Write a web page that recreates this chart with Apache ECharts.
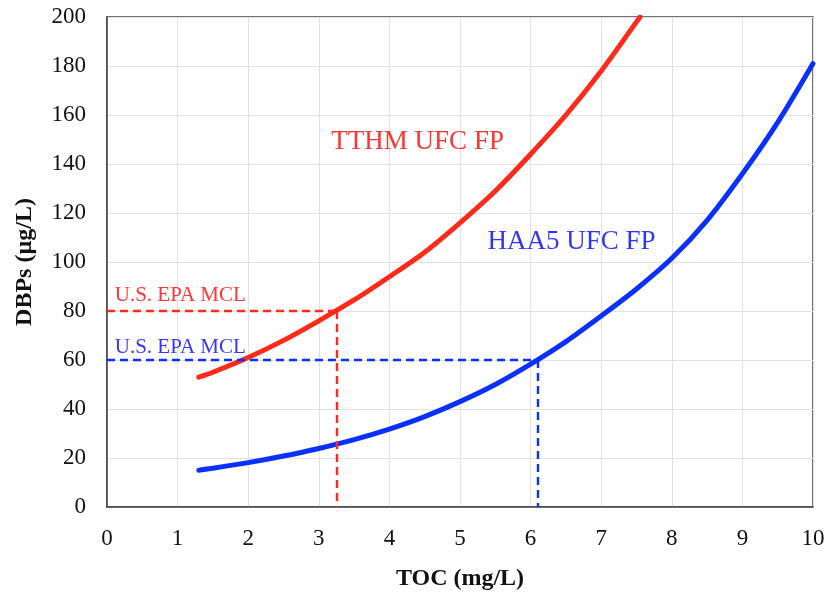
<!DOCTYPE html>
<html>
<head>
<meta charset="utf-8">
<script src="https://cdn.jsdelivr.net/npm/echarts@6/dist/echarts.min.js"></script>
<style>html,body{margin:0;padding:0;background:#fff}#c{width:827px;height:595px}</style>
</head>
<body>
<div id="c"></div>
<script>
// TOC (mg/L) vs DBPs (µg/L)
const tthmToc = [1.3, 1.5, 2.0, 2.5, 3.0, 3.5, 4.0, 4.5, 5.0, 5.5, 6.0, 6.5, 7.0, 7.5, 7.55];
const tthmVal = [53, 55, 61, 68, 76, 84.5, 94, 104, 116, 129, 144, 160, 178, 198, 200];
const haa5Toc = [1.3, 1.5, 2.0, 2.5, 3.0, 3.5, 4.0, 4.5, 5.0, 5.5, 6.0, 6.5, 7.0, 7.5, 8.0, 8.5, 9.0, 9.5, 10.0];
const haa5Val = [15, 15.8, 18.1, 20.8, 23.9, 27.5, 31.8, 36.9, 43, 50, 58.3, 67.5, 78, 89, 101.5, 117, 136, 157, 181];
const tthmMcl = 80, tthmMclToc = 3.25;
const haa5Mcl = 60, haa5MclToc = 6.1;
const xTicks = [0,1,2,3,4,5,6,7,8,9,10];
const yTicks = [0,20,40,60,80,100,120,140,160,180,200];

const RED = '#ff2a1a', BLUE = '#0a30ff';
const serif = '"Liberation Serif", "DejaVu Serif", serif';

const chart = echarts.init(document.getElementById('c'));
chart.setOption({
  animation: false,
  grid: {left: 107, right: 14, top: 17, bottom: 88, outerBoundsMode: 'none', containLabel: false,
         show: true, borderColor: '#444', borderWidth: 1.5},
  xAxis: {
    type: 'value', min: xTicks[0], max: xTicks[xTicks.length-1], interval: 1,
    name: 'TOC (mg/L)', nameLocation: 'middle', nameGap: 60,
    nameTextStyle: {fontFamily: serif, fontSize: 24, fontWeight: 'bold', color: '#111'},
    axisLine: {show: true, lineStyle: {color: '#444', width: 1.5}},
    axisTick: {show: false},
    axisLabel: {fontFamily: serif, fontSize: 23, color: '#111', margin: 20},
    splitLine: {show: true, lineStyle: {color: '#e2e2e2', width: 1}}
  },
  yAxis: {
    type: 'value', min: yTicks[0], max: yTicks[yTicks.length-1], interval: 20,
    name: 'DBPs (µg/L)', nameLocation: 'middle', nameGap: 70, nameRotate: 90,
    nameTextStyle: {fontFamily: serif, fontSize: 24, fontWeight: 'bold', color: '#111'},
    axisLine: {show: true, lineStyle: {color: '#444', width: 1.5}},
    axisTick: {show: false},
    axisLabel: {fontFamily: serif, fontSize: 23, color: '#111', margin: 21},
    splitLine: {show: true, lineStyle: {color: '#e2e2e2', width: 1}}
  },
  series: [
    {
      type: 'line', smooth: 0.3, showSymbol: false, clip: true,
      data: tthmToc.map((x, i) => [x, tthmVal[i]]),
      lineStyle: {color: RED, width: 5, cap: 'round'},
      markLine: {
        symbol: 'none', silent: true, label: {show: false},
        lineStyle: {color: RED, type: [8, 5], width: 2.4},
        data: [
          [{coord: [0, tthmMcl]}, {coord: [tthmMclToc, tthmMcl]}],
          [{coord: [tthmMclToc, tthmMcl]}, {coord: [tthmMclToc, 0]}]
        ]
      },
      z: 3
    },
    {
      type: 'line', smooth: 0.3, showSymbol: false, clip: true,
      data: haa5Toc.map((x, i) => [x, haa5Val[i]]),
      lineStyle: {color: BLUE, width: 5, cap: 'round'},
      markLine: {
        symbol: 'none', silent: true, label: {show: false},
        lineStyle: {color: BLUE, type: [8, 5], width: 2.4},
        data: [
          [{coord: [0, haa5Mcl]}, {coord: [haa5MclToc, haa5Mcl]}],
          [{coord: [haa5MclToc, haa5Mcl]}, {coord: [haa5MclToc, 0]}]
        ]
      },
      z: 3
    },
    {
      type: 'scatter', symbolSize: 0, silent: true, z: 5,
      data: [
        {value: [4.40, 149], label: {formatter: 'TTHM UFC FP', color: '#ff0000', fontSize: 27, align: 'center'}},
        {value: [6.58, 108], label: {formatter: 'HAA5 UFC FP', color: '#0000ff', fontSize: 27, align: 'center'}},
        {value: [0.11, 86.5], label: {formatter: 'U.S. EPA MCL', color: '#ff0000', fontSize: 21, align: 'left'}},
        {value: [0.11, 65], label: {formatter: 'U.S. EPA MCL', color: '#0000ff', fontSize: 21, align: 'left'}}
      ],
      label: {show: true, position: 'inside', verticalAlign: 'middle', fontFamily: serif}
    }
  ]
});
</script>
</body>
</html>
